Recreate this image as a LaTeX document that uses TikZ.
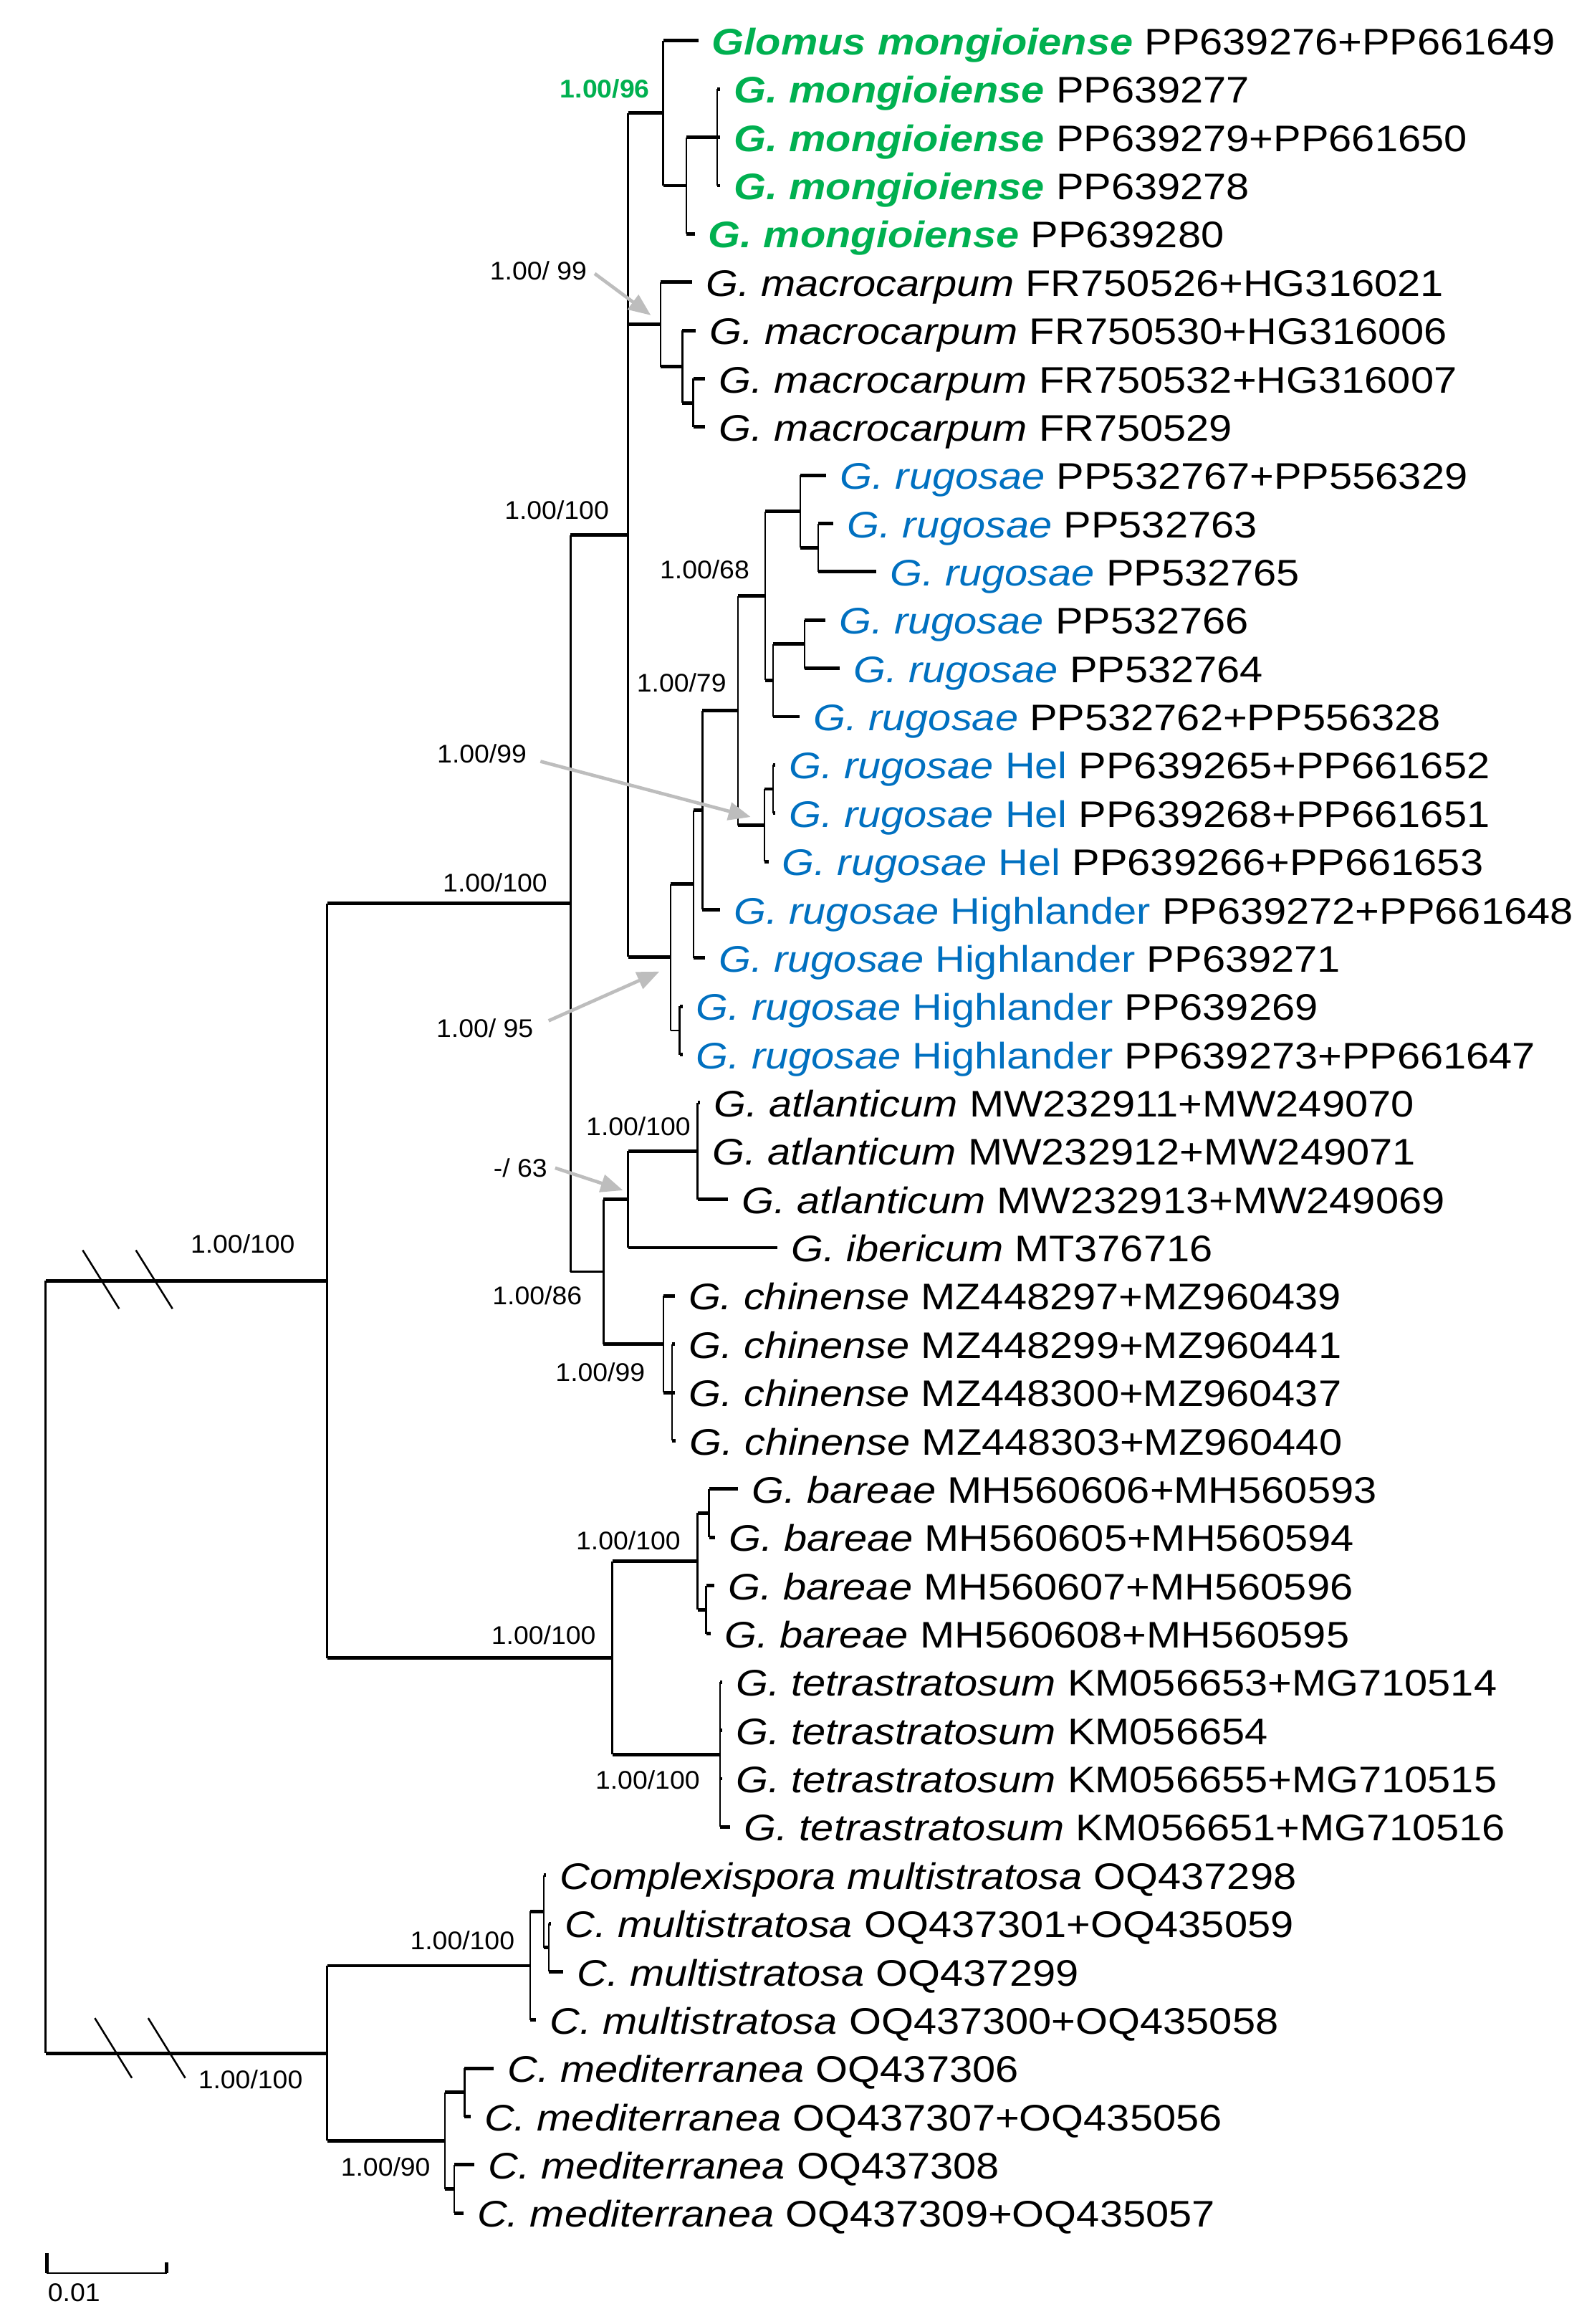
\documentclass[tikz,border=0pt]{standalone}
\usepackage{fontspec}
\setmainfont{Liberation Sans}[FakeStretch=1.12]
\newfontfamily\supfont{Liberation Sans}[FakeStretch=1.05]
\usetikzlibrary{arrows.meta}
\definecolor{mgreen}{HTML}{00B050}
\definecolor{rblue}{HTML}{0070C0}
\definecolor{agrey}{HTML}{BDBDBD}
% row height of the tips
\newcommand{\ry}[1]{27.5+32.57*(#1-1)}
\newcommand{\gmo}[1]{\textcolor{mgreen}{\bfseries\itshape #1}}
\newcommand{\gru}[1]{\textcolor{rblue}{#1}}
\tikzset{
  hbr/.style={line width=1.35pt},
  vbr/.style={line width=0.7pt},
  taxon/.style={anchor=base west, inner sep=0pt, font=\fontsize{14.2}{16}\selectfont},
  sup/.style={inner sep=0pt, font=\supfont\fontsize{9.8}{11}\selectfont},
  pointer/.style={draw=agrey, line width=1.3pt, -{Triangle[length=0.3cm,width=0.24cm]}},
}
\begin{document}
\begin{tikzpicture}[x=0.02cm,y=-0.02cm]
\useasboundingbox (0,0) rectangle (1074,1568);
% tips
\coordinate (t1) at (471.2,{\ry{1}});
\coordinate (t2) at (486,{\ry{2}});
\coordinate (t3) at (486,{\ry{3}});
\coordinate (t4) at (486,{\ry{4}});
\coordinate (t5) at (468.8,{\ry{5}});
\coordinate (t6) at (467,{\ry{6}});
\coordinate (t7) at (469.6,{\ry{7}});
\coordinate (t8) at (476,{\ry{8}});
\coordinate (t9) at (476,{\ry{9}});
\coordinate (t10) at (557.7,{\ry{10}});
\coordinate (t11) at (562.5,{\ry{11}});
\coordinate (t12) at (591.2,{\ry{12}});
\coordinate (t13) at (556.9,{\ry{13}});
\coordinate (t14) at (566.6,{\ry{14}});
\coordinate (t15) at (539.6,{\ry{15}});
\coordinate (t16) at (523,{\ry{16}});
\coordinate (t17) at (523,{\ry{17}});
\coordinate (t18) at (518.6,{\ry{18}});
\coordinate (t19) at (486,{\ry{19}});
\coordinate (t20) at (475.8,{\ry{20}});
\coordinate (t21) at (460.6,{\ry{21}});
\coordinate (t22) at (460.6,{\ry{22}});
\coordinate (t23) at (472.5,{\ry{23}});
\coordinate (t24) at (471.5,{\ry{24}});
\coordinate (t25) at (491.2,{\ry{25}});
\coordinate (t26) at (524.8,{\ry{26}});
\coordinate (t27) at (455.3,{\ry{27}});
\coordinate (t28) at (455.5,{\ry{28}});
\coordinate (t29) at (455.5,{\ry{29}});
\coordinate (t30) at (456,{\ry{30}});
\coordinate (t31) at (498,{\ry{31}});
\coordinate (t32) at (482.6,{\ry{32}});
\coordinate (t33) at (482,{\ry{33}});
\coordinate (t34) at (479.5,{\ry{34}});
\coordinate (t35) at (487.5,{\ry{35}});
\coordinate (t36) at (487.5,{\ry{36}});
\coordinate (t37) at (487.5,{\ry{37}});
\coordinate (t38) at (492.9,{\ry{38}});
\coordinate (t39) at (368.5,{\ry{39}});
\coordinate (t40) at (372,{\ry{40}});
\coordinate (t41) at (380,{\ry{41}});
\coordinate (t42) at (361.8,{\ry{42}});
\coordinate (t43) at (333.2,{\ry{43}});
\coordinate (t44) at (317.5,{\ry{44}});
\coordinate (t45) at (320.3,{\ry{45}});
\coordinate (t46) at (312.7,{\ry{46}});
% internal nodes
\coordinate (A) at (447.5,{\ry{2.5}});
\coordinate (A1) at (463.2,{\ry{4}});
\coordinate (A2) at (484,{\ry{3}});
\coordinate (M) at (445.8,{\ry{6.875}});
\coordinate (M1) at (460.4,{\ry{7.75}});
\coordinate (M2) at (467.9,{\ry{8.5}});
\coordinate (R) at (452.5,{\ry{19.98}});
\coordinate (R1) at (468,{\ry{18.47}});
\coordinate (R2) at (474,{\ry{16.94}});
\coordinate (R3) at (498.1,{\ry{14.875}});
\coordinate (R4) at (516.3,{\ry{12.5}});
\coordinate (R5) at (540,{\ry{10.75}});
\coordinate (R5a) at (552.1,{\ry{11.5}});
\coordinate (R6) at (521.8,{\ry{14.25}});
\coordinate (R6a) at (542.9,{\ry{13.5}});
\coordinate (R7) at (515.9,{\ry{17.25}});
\coordinate (R7a) at (521.6,{\ry{16.5}});
\coordinate (R9) at (458.7,{\ry{21.5}});
\coordinate (B) at (423.8,{\ry{11.24}});
\coordinate (C1a) at (470.7,{\ry{24}});
\coordinate (C1) at (423.8,{\ry{25}});
\coordinate (C2a) at (453.5,{\ry{29}});
\coordinate (C2) at (447.7,{\ry{28}});
\coordinate (C) at (407.3,{\ry{26.5}});
\coordinate (N1) at (385,{\ry{18.87}});
\coordinate (D1a) at (478.5,{\ry{31.5}});
\coordinate (D1b) at (476.5,{\ry{33.5}});
\coordinate (D1) at (470.7,{\ry{32.5}});
\coordinate (D2) at (486,{\ry{36.5}});
\coordinate (D) at (413.2,{\ry{34.5}});
\coordinate (N2) at (220.8,{\ry{26.69}});
\coordinate (E1a) at (370.4,{\ry{40.5}});
\coordinate (E1) at (367,{\ry{39.75}});
\coordinate (E) at (357.7,{\ry{40.875}});
\coordinate (F1) at (313.5,{\ry{43.5}});
\coordinate (F2) at (306.6,{\ry{45.5}});
\coordinate (F) at (300.3,{\ry{44.5}});
\coordinate (N3) at (220.8,{\ry{42.69}});
\coordinate (root) at (30.8,{\ry{35}});
% branches
\foreach \p/\c in {A/t1,A/A1,A1/A2,A1/t5,A2/t2,A2/t3,A2/t4,
  M/t6,M/M1,M1/t7,M1/M2,M2/t8,M2/t9,
  R/R1,R1/R2,R1/t20,R2/R3,R2/t19,R3/R4,R3/R7,R4/R5,R4/R6,R5/t10,R5/R5a,
  R5a/t11,R5a/t12,R6/R6a,R6/t15,R6a/t13,R6a/t14,R7/R7a,R7/t18,R7a/t16,R7a/t17,
  R9/t21,R9/t22,B/A,B/M,B/R,
  C/C1,C1/C1a,C1/t26,C1a/t23,C1a/t24,C1a/t25,C/C2,C2/t27,C2/C2a,C2a/t28,C2a/t29,C2a/t30,
  N1/B,D/D1,D/D2,D1/D1a,D1/D1b,D1a/t31,D1a/t32,D1b/t33,D1b/t34,
  D2/t35,D2/t36,D2/t37,D2/t38,N2/N1,N2/D,
  E/E1,E/t42,E1/t39,E1/E1a,E1a/t40,E1a/t41,
  F/F1,F/F2,F1/t43,F1/t44,F2/t45,F2/t46,N3/E,N3/F,root/N2,root/N3}
  \draw[hbr] (\p |- \c) -- (\c);
\draw[vbr] (N1 |- C) -- (C);
\draw[vbr] (R |- R9) -- (R9);
\foreach \p/\a/\b in {A/t1/A1,A1/A2/t5,A2/t2/t4,M/t6/M1,M1/t7/M2,M2/t8/t9,
  R/R1/R9,R1/R2/t20,R2/R3/t19,R3/R4/R7,R4/R5/R6,R5/t10/R5a,R5a/t11/t12,
  R6/R6a/t15,R6a/t13/t14,R7/R7a/t18,R7a/t16/t17,R9/t21/t22,B/A/R,
  C/C1/C2,C1/C1a/t26,C1a/t23/t25,C2/t27/C2a,C2a/t28/t30,N1/B/C,
  D/D1/D2,D1/D1a/D1b,D1a/t31/t32,D1b/t33/t34,D2/t35/t38,N2/N1/D,
  E/E1/t42,E1/t39/E1a,E1a/t40/t41,F/F1/F2,F1/t43/t44,F2/t45/t46,N3/E/F,root/N2/N3}
  \draw[vbr] (\p |- \a) -- (\p |- \b);
% broken branches
\draw[vbr] (55.8,843.5) -- (80.4,883);
\draw[vbr] (91.7,843.5) -- (116.4,883);
\draw[vbr] (64,1361.6) -- (89,1402);
\draw[vbr] (100,1361.6) -- (125,1402);
% taxa
\node[taxon] (l1) at ([shift={(9,9.5)}]t1) {\gmo{Glomus mongioiense} PP639276+PP661649};
\node[taxon] (l2) at ([shift={(9,9.5)}]t2) {\gmo{G. mongioiense} PP639277};
\node[taxon] (l3) at ([shift={(9,9.5)}]t3) {\gmo{G. mongioiense} PP639279+PP661650};
\node[taxon] (l4) at ([shift={(9,9.5)}]t4) {\gmo{G. mongioiense} PP639278};
\node[taxon] (l5) at ([shift={(9,9.5)}]t5) {\gmo{G. mongioiense} PP639280};
\node[taxon] (l6) at ([shift={(9,9.5)}]t6) {\textit{G. macrocarpum} FR750526+HG316021};
\node[taxon] (l7) at ([shift={(9,9.5)}]t7) {\textit{G. macrocarpum} FR750530+HG316006};
\node[taxon] (l8) at ([shift={(9,9.5)}]t8) {\textit{G. macrocarpum} FR750532+HG316007};
\node[taxon] (l9) at ([shift={(9,9.5)}]t9) {\textit{G. macrocarpum} FR750529};
\node[taxon] (l10) at ([shift={(9,9.5)}]t10) {\gru{\textit{G. rugosae}} PP532767+PP556329};
\node[taxon] (l11) at ([shift={(9,9.5)}]t11) {\gru{\textit{G. rugosae}} PP532763};
\node[taxon] (l12) at ([shift={(9,9.5)}]t12) {\gru{\textit{G. rugosae}} PP532765};
\node[taxon] (l13) at ([shift={(9,9.5)}]t13) {\gru{\textit{G. rugosae}} PP532766};
\node[taxon] (l14) at ([shift={(9,9.5)}]t14) {\gru{\textit{G. rugosae}} PP532764};
\node[taxon] (l15) at ([shift={(9,9.5)}]t15) {\gru{\textit{G. rugosae}} PP532762+PP556328};
\node[taxon] (l16) at ([shift={(9,9.5)}]t16) {\gru{\textit{G. rugosae} Hel} PP639265+PP661652};
\node[taxon] (l17) at ([shift={(9,9.5)}]t17) {\gru{\textit{G. rugosae} Hel} PP639268+PP661651};
\node[taxon] (l18) at ([shift={(9,9.5)}]t18) {\gru{\textit{G. rugosae} Hel} PP639266+PP661653};
\node[taxon] (l19) at ([shift={(9,9.5)}]t19) {\gru{\textit{G. rugosae} Highlander} PP639272+PP661648};
\node[taxon] (l20) at ([shift={(9,9.5)}]t20) {\gru{\textit{G. rugosae} Highlander} PP639271};
\node[taxon] (l21) at ([shift={(9,9.5)}]t21) {\gru{\textit{G. rugosae} Highlander} PP639269};
\node[taxon] (l22) at ([shift={(9,9.5)}]t22) {\gru{\textit{G. rugosae} Highlander} PP639273+PP661647};
\node[taxon] (l23) at ([shift={(9,9.5)}]t23) {\textit{G. atlanticum} MW232911+MW249070};
\node[taxon] (l24) at ([shift={(9,9.5)}]t24) {\textit{G. atlanticum} MW232912+MW249071};
\node[taxon] (l25) at ([shift={(9,9.5)}]t25) {\textit{G. atlanticum} MW232913+MW249069};
\node[taxon] (l26) at ([shift={(9,9.5)}]t26) {\textit{G. ibericum} MT376716};
\node[taxon] (l27) at ([shift={(9,9.5)}]t27) {\textit{G. chinense} MZ448297+MZ960439};
\node[taxon] (l28) at ([shift={(9,9.5)}]t28) {\textit{G. chinense} MZ448299+MZ960441};
\node[taxon] (l29) at ([shift={(9,9.5)}]t29) {\textit{G. chinense} MZ448300+MZ960437};
\node[taxon] (l30) at ([shift={(9,9.5)}]t30) {\textit{G. chinense} MZ448303+MZ960440};
\node[taxon] (l31) at ([shift={(9,9.5)}]t31) {\textit{G. bareae} MH560606+MH560593};
\node[taxon] (l32) at ([shift={(9,9.5)}]t32) {\textit{G. bareae} MH560605+MH560594};
\node[taxon] (l33) at ([shift={(9,9.5)}]t33) {\textit{G. bareae} MH560607+MH560596};
\node[taxon] (l34) at ([shift={(9,9.5)}]t34) {\textit{G. bareae} MH560608+MH560595};
\node[taxon] (l35) at ([shift={(9,9.5)}]t35) {\textit{G. tetrastratosum} KM056653+MG710514};
\node[taxon] (l36) at ([shift={(9,9.5)}]t36) {\textit{G. tetrastratosum} KM056654};
\node[taxon] (l37) at ([shift={(9,9.5)}]t37) {\textit{G. tetrastratosum} KM056655+MG710515};
\node[taxon] (l38) at ([shift={(9,9.5)}]t38) {\textit{G. tetrastratosum} KM056651+MG710516};
\node[taxon] (l39) at ([shift={(9,9.5)}]t39) {\textit{Complexispora multistratosa} OQ437298};
\node[taxon] (l40) at ([shift={(9,9.5)}]t40) {\textit{C. multistratosa} OQ437301+OQ435059};
\node[taxon] (l41) at ([shift={(9,9.5)}]t41) {\textit{C. multistratosa} OQ437299};
\node[taxon] (l42) at ([shift={(9,9.5)}]t42) {\textit{C. multistratosa} OQ437300+OQ435058};
\node[taxon] (l43) at ([shift={(9,9.5)}]t43) {\textit{C. mediterranea} OQ437306};
\node[taxon] (l44) at ([shift={(9,9.5)}]t44) {\textit{C. mediterranea} OQ437307+OQ435056};
\node[taxon] (l45) at ([shift={(9,9.5)}]t45) {\textit{C. mediterranea} OQ437308};
\node[taxon] (l46) at ([shift={(9,9.5)}]t46) {\textit{C. mediterranea} OQ437309+OQ435057};
% support values
\node[sup] (sA) at (408.2,60) {\textcolor{mgreen}{\bfseries 1.00/96}};
\node[sup] (sM) at (363.3,182.6) {1.00/ 99};
\node[sup] (sB) at (375.7,344.2) {1.00/100};
\node[sup] (sR4) at (475.5,384.1) {1.00/68};
\node[sup] (sR3) at (459.9,460.6) {1.00/79};
\node[sup] (sR7) at (325.2,508.7) {1.00/99};
\node[sup] (sN1) at (334.1,595.8) {1.00/100};
\node[sup] (sR) at (327.2,693.7) {1.00/ 95};
\node[sup] (sC1a) at (430.8,760) {1.00/100};
\node[sup] (sC1) at (351.2,788) {-/ 63};
\node[sup] (sN2) at (163.8,839.3) {1.00/100};
\node[sup] (sC) at (362.5,873.9) {1.00/86};
\node[sup] (sC2) at (405.1,925.7) {1.00/99};
\node[sup] (sD1) at (424,1039.2) {1.00/100};
\node[sup] (sD) at (366.8,1103.1) {1.00/100};
\node[sup] (sD2) at (437,1200.8) {1.00/100};
\node[sup] (sE) at (312,1309.4) {1.00/100};
\node[sup] (sN3) at (169,1402.8) {1.00/100};
\node[sup] (sF) at (260.2,1462.1) {1.00/90};
% pointers
\coordinate (pM) at (439.2,212.7);
\coordinate (pR7) at (506.6,551.2);
\coordinate (pR) at (445,655.5);
\coordinate (pC1) at (420.4,803.1);
\draw[pointer] ([shift={(5,2)}]sM.east) -- (pM);
\draw[pointer] ([shift={(9,5)}]sR7.east) -- (pR7);
\draw[pointer] ([shift={(10,-5)}]sR.east) -- (pR);
\draw[pointer] ([shift={(5,0)}]sC1.east) -- (pC1);
% scale bar
\coordinate (s0) at (31.5,1533.6);
\coordinate (s1) at (112.5,1533.6);
\draw[vbr] (s0) -- (s1);
\draw[hbr] (s0) -- +(0,-13.6);
\draw[hbr] (s1) -- +(0,-7);
\node[sup, anchor=west] (sbar) at (32,1547) {0.01};
\end{tikzpicture}
\end{document}
